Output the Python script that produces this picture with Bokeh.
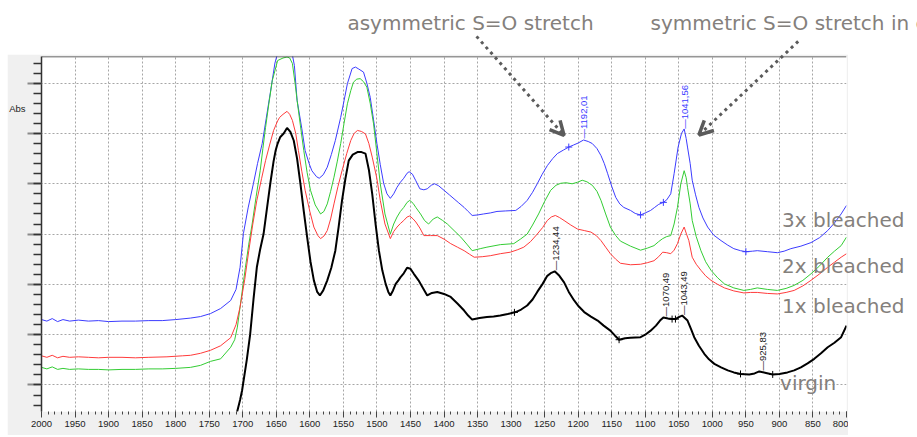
import numpy as np
from math import pi
from bokeh.plotting import figure
from bokeh.models import Range1d, FixedTicker, Label, Arrow, OpenHead, Span
from bokeh.embed import file_html
from bokeh.resources import INLINE

# ---------------- data (wavenumber cm-1, absorbance) ----------------
blue_wn = [2000, 1992, 1984, 1976, 1968, 1958, 1945, 1930, 1915, 1900, 1880, 1860, 1840, 1820, 1800,
           1778, 1763, 1748, 1733, 1718, 1710, 1704, 1699, 1692, 1684, 1678, 1671, 1665, 1659, 1652,
           1645, 1636, 1628, 1623, 1619, 1612, 1607, 1601, 1597, 1590, 1586, 1580, 1574, 1568, 1562,
           1554, 1549, 1544, 1537, 1532, 1527, 1520, 1515, 1510, 1505, 1500, 1495, 1490, 1485, 1480,
           1475, 1470, 1465, 1460, 1455, 1452, 1447, 1442, 1436, 1430, 1425, 1419, 1414, 1408, 1400,
           1392, 1385, 1378, 1370, 1364, 1358, 1350, 1341, 1331, 1321, 1308, 1293, 1285, 1276, 1268,
           1261, 1254, 1246, 1238, 1231, 1222, 1214, 1207, 1200, 1192, 1185, 1179, 1172, 1166, 1161,
           1156, 1150, 1144, 1138, 1132, 1122, 1115, 1107, 1100, 1092, 1086, 1080, 1073, 1068, 1062,
           1057, 1051, 1046, 1042, 1039, 1037, 1033, 1030, 1025, 1020, 1014, 1007, 998, 987, 977,
           968, 958, 950, 940, 933, 918, 903, 893, 883, 868, 853, 840, 828, 818, 808, 800]
blue_abs = [0.330, 0.327, 0.332, 0.326, 0.330, 0.327, 0.329, 0.327, 0.328, 0.326, 0.327, 0.327, 0.328, 0.328, 0.330,
            0.333, 0.336, 0.342, 0.352, 0.368, 0.390, 0.434, 0.501, 0.552, 0.601, 0.640, 0.680, 0.730, 0.780, 0.840,
            0.875, 0.890, 0.870, 0.835, 0.766, 0.710, 0.666, 0.640, 0.626, 0.614, 0.611, 0.618, 0.633, 0.658, 0.686,
            0.732, 0.765, 0.799, 0.829, 0.832, 0.828, 0.822, 0.800, 0.772, 0.727, 0.680, 0.638, 0.601, 0.580, 0.571,
            0.580, 0.593, 0.603, 0.611, 0.621, 0.624, 0.619, 0.606, 0.590, 0.588, 0.590, 0.597, 0.600, 0.596, 0.587,
            0.578, 0.570, 0.562, 0.553, 0.545, 0.537, 0.538, 0.540, 0.542, 0.545, 0.546, 0.547, 0.555, 0.567, 0.583,
            0.600, 0.618, 0.636, 0.650, 0.660, 0.667, 0.673, 0.677, 0.681, 0.687, 0.684, 0.680, 0.670, 0.656, 0.640,
            0.620, 0.595, 0.573, 0.560, 0.553, 0.547, 0.541, 0.538, 0.542, 0.547, 0.553, 0.559, 0.563, 0.568, 0.580,
            0.620, 0.673, 0.700, 0.709, 0.690, 0.673, 0.640, 0.607, 0.578, 0.553, 0.532, 0.514, 0.498, 0.487, 0.478,
            0.471, 0.467, 0.465, 0.466, 0.467, 0.465, 0.463, 0.466, 0.471, 0.476, 0.483, 0.493, 0.507, 0.522, 0.540, 0.557]

green_wn = [2000, 1992, 1984, 1976, 1968, 1958, 1945, 1930, 1915, 1900, 1880, 1860, 1840, 1820, 1800,
            1778, 1763, 1748, 1733, 1718, 1712, 1708, 1706, 1701, 1696, 1691, 1686, 1680, 1674, 1670,
            1666, 1661, 1656, 1648, 1640, 1634, 1630, 1626, 1622, 1619, 1614, 1609, 1604, 1599, 1592,
            1584, 1579, 1574, 1569, 1564, 1559, 1554, 1549, 1544, 1539, 1535, 1530, 1525, 1520, 1515,
            1510, 1505, 1500, 1495, 1488, 1480, 1475, 1470, 1465, 1460, 1455, 1451, 1446, 1442, 1435,
            1429, 1423, 1416, 1410, 1402, 1395, 1385, 1375, 1366, 1358, 1346, 1336, 1316, 1296, 1286,
            1276, 1268, 1259, 1250, 1241, 1233, 1226, 1218, 1209, 1201, 1194, 1187, 1179, 1172, 1166,
            1159, 1152, 1144, 1137, 1122, 1107, 1097, 1087, 1080, 1074, 1068, 1062, 1057, 1052, 1047,
            1042, 1039, 1037, 1033, 1030, 1024, 1017, 1010, 1002, 992, 982, 968, 953, 943, 933,
            918, 903, 890, 878, 865, 853, 840, 828, 818, 808, 800]
green_abs = [0.235, 0.232, 0.236, 0.231, 0.233, 0.231, 0.232, 0.231, 0.231, 0.230, 0.231, 0.231, 0.232, 0.232, 0.233,
             0.235, 0.239, 0.247, 0.252, 0.275, 0.290, 0.315, 0.335, 0.385, 0.434, 0.480, 0.520, 0.575, 0.626, 0.670,
             0.712, 0.760, 0.805, 0.845, 0.850, 0.852, 0.850, 0.839, 0.800, 0.766, 0.715, 0.666, 0.622, 0.587, 0.558,
             0.540, 0.545, 0.560, 0.585, 0.613, 0.645, 0.680, 0.720, 0.759, 0.785, 0.802, 0.808, 0.809, 0.803, 0.792,
             0.760, 0.719, 0.660, 0.600, 0.540, 0.500, 0.520, 0.534, 0.545, 0.553, 0.563, 0.567, 0.561, 0.553, 0.540,
             0.527, 0.520, 0.530, 0.534, 0.527, 0.520, 0.507, 0.494, 0.480, 0.467, 0.471, 0.474, 0.479, 0.481, 0.490,
             0.500, 0.518, 0.540, 0.565, 0.587, 0.597, 0.601, 0.602, 0.600, 0.603, 0.607, 0.604, 0.597, 0.585, 0.567,
             0.540, 0.514, 0.497, 0.486, 0.476, 0.468, 0.472, 0.477, 0.485, 0.491, 0.495, 0.497, 0.520, 0.553, 0.600,
             0.626, 0.612, 0.593, 0.560, 0.527, 0.495, 0.467, 0.445, 0.428, 0.413, 0.401, 0.393, 0.388, 0.390, 0.393,
             0.390, 0.388, 0.392, 0.398, 0.408, 0.421, 0.437, 0.454, 0.466, 0.477, 0.494]

red_wn = [2000, 1992, 1984, 1976, 1968, 1958, 1945, 1930, 1915, 1900, 1880, 1860, 1840, 1813, 1790,
          1778, 1763, 1748, 1733, 1718, 1710, 1704, 1697, 1691, 1685, 1679, 1672, 1666, 1660, 1654,
          1648, 1645, 1640, 1634, 1630, 1626, 1621, 1617, 1612, 1607, 1600, 1594, 1588, 1584, 1579,
          1574, 1569, 1564, 1558, 1552, 1545, 1539, 1534, 1529, 1523, 1517, 1512, 1507, 1500, 1495,
          1488, 1480, 1475, 1470, 1465, 1460, 1455, 1451, 1446, 1442, 1436, 1430, 1420, 1410, 1400,
          1390, 1380, 1370, 1362, 1355, 1343, 1331, 1316, 1301, 1290, 1281, 1271, 1261, 1253, 1246,
          1240, 1234, 1228, 1221, 1211, 1201, 1191, 1181, 1173, 1166, 1159, 1152, 1144, 1137, 1122,
          1107, 1097, 1087, 1080, 1074, 1068, 1062, 1057, 1052, 1047, 1042, 1039, 1035, 1030, 1024,
          1017, 1010, 1002, 992, 982, 968, 953, 943, 933, 918, 903, 890, 878, 865, 853,
          840, 828, 818, 808, 800]
red_abs = [0.258, 0.255, 0.259, 0.254, 0.257, 0.255, 0.256, 0.255, 0.254, 0.255, 0.255, 0.254, 0.255, 0.256, 0.258,
           0.259, 0.263, 0.269, 0.278, 0.294, 0.320, 0.355, 0.410, 0.467, 0.520, 0.567, 0.610, 0.646, 0.677, 0.706,
           0.725, 0.732, 0.738, 0.744, 0.738, 0.726, 0.700, 0.666, 0.625, 0.587, 0.545, 0.514, 0.497, 0.491, 0.496,
           0.507, 0.530, 0.560, 0.595, 0.626, 0.660, 0.686, 0.700, 0.706, 0.704, 0.699, 0.680, 0.653, 0.610, 0.567,
           0.520, 0.491, 0.505, 0.514, 0.521, 0.527, 0.534, 0.536, 0.530, 0.524, 0.512, 0.497, 0.497, 0.497, 0.490,
           0.481, 0.474, 0.467, 0.460, 0.454, 0.455, 0.457, 0.461, 0.464, 0.469, 0.474, 0.485, 0.500, 0.513, 0.527,
           0.534, 0.537, 0.533, 0.527, 0.518, 0.510, 0.507, 0.504, 0.497, 0.487, 0.474, 0.461, 0.450, 0.442, 0.439,
           0.440, 0.443, 0.447, 0.455, 0.464, 0.463, 0.461, 0.468, 0.481, 0.500, 0.514, 0.502, 0.487, 0.454, 0.440,
           0.428, 0.417, 0.408, 0.400, 0.393, 0.387, 0.383, 0.384, 0.384, 0.382, 0.381, 0.384, 0.388, 0.397, 0.408,
           0.421, 0.434, 0.444, 0.454, 0.461]

black_wn = [1712, 1708, 1704, 1701, 1694, 1689, 1684, 1679, 1674, 1669, 1664, 1659, 1654, 1651, 1648,
            1644, 1639, 1634, 1629, 1624, 1619, 1614, 1609, 1604, 1599, 1594, 1589, 1585, 1580, 1574,
            1568, 1562, 1557, 1552, 1547, 1542, 1536, 1529, 1523, 1517, 1512, 1507, 1502, 1497, 1492,
            1487, 1483, 1480, 1476, 1472, 1468, 1465, 1460, 1455, 1450, 1445, 1438, 1431, 1425, 1418,
            1410, 1400, 1390, 1380, 1370, 1364, 1358, 1347, 1336, 1326, 1316, 1305, 1293, 1285, 1276,
            1268, 1261, 1253, 1246, 1240, 1235, 1228, 1221, 1214, 1206, 1199, 1191, 1181, 1171, 1162,
            1152, 1145, 1139, 1130, 1122, 1107, 1100, 1092, 1084, 1078, 1073, 1066, 1060, 1055, 1050,
            1045, 1041, 1037, 1032, 1027, 1020, 1012, 1005, 997, 987, 977, 968, 958, 945, 937,
            930, 920, 910, 900, 888, 878, 868, 858, 848, 838, 828, 818, 808, 800]
black_abs = [0.120, 0.149, 0.170, 0.189, 0.250, 0.300, 0.370, 0.434, 0.470, 0.500, 0.550, 0.600, 0.645, 0.666, 0.680,
             0.693, 0.700, 0.711, 0.703, 0.686, 0.650, 0.600, 0.545, 0.494, 0.445, 0.408, 0.385, 0.378, 0.388, 0.408,
             0.433, 0.467, 0.515, 0.567, 0.610, 0.646, 0.658, 0.663, 0.663, 0.660, 0.628, 0.580, 0.520, 0.467, 0.428,
             0.401, 0.385, 0.378, 0.388, 0.401, 0.408, 0.414, 0.422, 0.433, 0.431, 0.421, 0.408, 0.392, 0.378, 0.383,
             0.385, 0.381, 0.375, 0.362, 0.348, 0.338, 0.330, 0.333, 0.335, 0.336, 0.338, 0.341, 0.345, 0.350, 0.358,
             0.370, 0.385, 0.401, 0.417, 0.423, 0.426, 0.417, 0.404, 0.385, 0.368, 0.356, 0.345, 0.336, 0.328, 0.318,
             0.308, 0.298, 0.290, 0.293, 0.294, 0.295, 0.300, 0.308, 0.318, 0.328, 0.334, 0.332, 0.331, 0.331, 0.335,
             0.338, 0.333, 0.328, 0.312, 0.295, 0.278, 0.262, 0.251, 0.242, 0.235, 0.229, 0.225, 0.222, 0.221, 0.223,
             0.227, 0.224, 0.221, 0.222, 0.225, 0.229, 0.235, 0.243, 0.252, 0.263, 0.275, 0.284, 0.295, 0.318]

# peak picks
blue_peaks = [1192.01, 1041.56]
black_peaks = [1234.44, 1070.49, 1043.49, 925.83]
blue_marks = [1214, 1107, 1073, 950]
black_marks = [1295, 1139, 1060, 1055, 958, 910]

series_names = ["3x bleached", "2x bleached", "1x bleached", "virgin"]
notes = ["asymmetric S=O stretch", "symmetric S=O stretch in cysteic acid"]

x_ticks = list(range(800, 2001, 50))
x_minor = list(range(800, 2001, 10))
y_ticks = [0.2, 0.3, 0.4, 0.5, 0.6, 0.7, 0.8]
y_minor = [round(v, 2) for v in np.arange(0.14, 0.86, 0.02)]

# ---------------- styling ----------------
BLUE, GREEN, RED, BLACK = "#3c3cff", "#33cc33", "#ff3b3b", "#000000"
NOTE = "#84807c"
ARROW = "#5b5b5b"
Y_LO, Y_HI = 0.1473, 0.853


def at(wn, ab, x):
    return float(np.interp(x, wn[::-1], ab[::-1]))


# ---------------- instrument chart ----------------
p = figure(frame_width=805, frame_height=355, output_backend="svg", toolbar_location=None,
           x_range=Range1d(2000, 800), y_range=Range1d(Y_LO, Y_HI),
           min_border_left=34, min_border_right=2, min_border_top=2, min_border_bottom=24)
p.outline_line_color = None
p.background_fill_color = "white"
p.border_fill_color = "#f0f0f0"
p.styles = {"position": "absolute", "left": "7px", "top": "54px"}

p.xaxis.ticker = FixedTicker(ticks=x_ticks, minor_ticks=x_minor)
p.xaxis.axis_line_color = None
p.xaxis.major_tick_in = 0
p.xaxis.major_tick_out = 6
p.xaxis.minor_tick_in = 0
p.xaxis.minor_tick_out = 3
p.xaxis.major_tick_line_color = "#444"
p.xaxis.minor_tick_line_color = "#444"
p.xaxis.major_label_text_font = "Liberation Sans"
p.xaxis.major_label_text_font_size = "9.5px"
p.xaxis.major_label_text_color = "#222"
p.xaxis.major_label_standoff = 3

p.yaxis.ticker = FixedTicker(ticks=y_ticks, minor_ticks=y_minor)
p.yaxis.axis_line_color = "#333"
p.yaxis.axis_line_width = 1.5
p.yaxis.major_tick_in = 0
p.yaxis.major_tick_out = 14
p.yaxis.major_tick_line_color = "#8a8a8a"
p.yaxis.major_tick_line_width = 2
p.yaxis.minor_tick_in = 0
p.yaxis.minor_tick_out = 8
p.yaxis.minor_tick_line_color = "#333"
p.yaxis.minor_tick_line_width = 1.5
p.yaxis.major_label_text_color = None
p.yaxis.major_label_text_font_size = "1px"
p.yaxis.major_label_standoff = 0

p.xgrid.ticker = FixedTicker(ticks=x_ticks)
p.ygrid.ticker = FixedTicker(ticks=y_ticks)
for g in (p.xgrid, p.ygrid):
    g.grid_line_color = "#a6a6a6"
    g.grid_line_dash = "2 2"
    g.grid_line_width = 1

p.add_layout(Span(location=Y_HI, dimension="width", line_color="#333", line_width=1.5))

p.line(blue_wn, blue_abs, line_color=BLUE, line_width=1)
p.line(green_wn, green_abs, line_color=GREEN, line_width=1)
p.line(red_wn, red_abs, line_color=RED, line_width=1)
p.line(black_wn, black_abs, line_color=BLACK, line_width=2)

p.scatter(blue_marks, [at(blue_wn, blue_abs, m) for m in blue_marks], marker="cross",
          size=7, line_color=BLUE, line_width=1)
p.scatter(black_marks, [at(black_wn, black_abs, m) for m in black_marks], marker="cross",
          size=7, line_color=BLACK, line_width=1)

for peaks, wn, ab, col in [(blue_peaks, blue_wn, blue_abs, BLUE), (black_peaks, black_wn, black_abs, "#222")]:
    for pk in peaks:
        p.add_layout(Label(x=pk, y=at(wn, ab, pk) + 0.003,
                           text="\u2014" + f"{pk:.2f}".replace(".", ","),
                           angle=pi / 2, text_align="left", text_baseline="middle",
                           text_font="Liberation Sans", text_font_size="9.5px", text_color=col))

# ---------------- slide overlay (same data scales, whole window) ----------------
px_per_unit = 805 / 1200.0
py_per_unit = 355 / (Y_HI - Y_LO)
q = figure(width=917, height=437, output_backend="svg", toolbar_location=None,
           x_range=Range1d(2000 + 41 / px_per_unit, 800 - 71 / px_per_unit),
           y_range=Range1d(Y_LO - 26 / py_per_unit, Y_HI + 56 / py_per_unit),
           x_axis_location=None, y_axis_location=None,
           min_border_left=0, min_border_right=0, min_border_top=0, min_border_bottom=0)
q.grid.visible = False
q.outline_line_color = None
q.background_fill_color = None
q.border_fill_color = None
q.styles = {"position": "absolute", "left": "0px", "top": "0px"}

q.add_layout(Label(x=2036, y=0.7495, text="Abs", text_align="center", text_baseline="middle",
                   text_font="Liberation Sans", text_font_size="9.5px", text_color="#222"))

for name, xx, yy in zip(series_names, [896, 896, 896, 899], [0.527, 0.437, 0.358, 0.203]):
    q.add_layout(Label(x=xx, y=yy, text=name, text_font="DejaVu Sans", text_font_size="20px",
                       text_color=NOTE, text_baseline="alphabetic"))

for note, xx in zip(notes, [1544, 1092]):
    q.add_layout(Label(x=xx, y=0.919, text=note, text_font="DejaVu Sans",
                       text_font_size="20px", text_color=NOTE, text_baseline="alphabetic"))

for xs, ys, xe, ye in [(1351.5, 0.893, 1221, 0.696), (872, 0.883, 1020, 0.697)]:
    q.add_layout(Arrow(x_start=xs, y_start=ys, x_end=xe, y_end=ye, line_color=ARROW, line_width=3,
                       line_dash="3 4",
                       end=OpenHead(size=14, line_color=ARROW, line_width=3.5)))

open("out.html", "w").write(file_html([p, q], INLINE))
